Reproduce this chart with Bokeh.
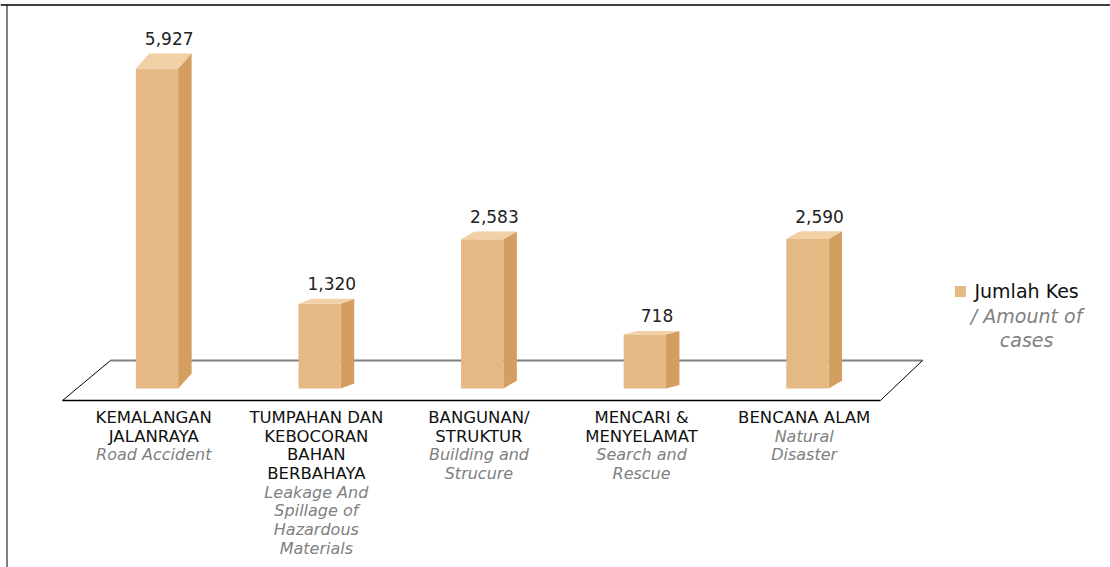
from bokeh.plotting import figure
from bokeh.models import ColumnDataSource, Range1d, Span
from bokeh.embed import file_html
from bokeh.resources import INLINE
from bokeh.core.properties import value

# ---------------- data ----------------
categories_ms = [["KEMALANGAN", "JALANRAYA"],
                 ["TUMPAHAN DAN", "KEBOCORAN", "BAHAN", "BERBAHAYA"],
                 ["BANGUNAN/", "STRUKTUR"],
                 ["MENCARI &", "MENYELAMAT"],
                 ["BENCANA ALAM"]]
categories_en = [["Road Accident"],
                 ["Leakage And", "Spillage of", "Hazardous", "Materials"],
                 ["Building and", "Strucure"],
                 ["Search and", "Rescue"],
                 ["Natural", "Disaster"]]
cases = [5927, 1320, 2583, 718, 2590]
value_labels = ["5,927", "1,320", "2,583", "718", "2,590"]
legend_ms = "Jumlah Kes"
legend_en = ["/ Amount of", "cases"]

# ---------------- style / layout ----------------
W, H = 1110, 567
X_START, X_END = -0.9625, 5.864
Y_START, Y_END = -3844, 7259
HALF_W = 0.13          # half width of bar front face (category units)
DX = 0.083             # 3D depth in x (category units)
BASE = -339            # bar base (value units, front of floor)
FLOOR_BACK, FLOOR_FRONT = 209.5, -573.7
FRONT_C = "#E5B983"
SIDE_C = "#D49E60"
TOP_C = "#F0D0A4"
FONT = "DejaVu Sans"


def depth(v):
    return 40 + 0.043 * v


n = len(cases)
p = figure(width=W, height=H, output_backend="svg", toolbar_location=None,
           x_range=Range1d(X_START, X_END), y_range=Range1d(Y_START, Y_END),
           min_border=0, tools="")
p.axis.visible = False
p.grid.visible = False
p.outline_line_color = None
p.background_fill_color = "white"

# frame border (top and left)
px_y = (Y_END - Y_START) / H
px_x = (X_END - X_START) / W
p.add_layout(Span(location=Y_END - 4.5 * px_y, dimension="width", line_color="black", line_width=1.5))
p.line([X_START + 6.5 * px_x] * 2, [Y_START, Y_END - 4.5 * px_y], line_color="#808080", line_width=2)

# floor
fl_bl, fl_br = -0.286, n - 1 + 0.708
fl_fl, fl_fr = -0.581, n - 1 + 0.449
p.line([fl_bl, fl_br], [FLOOR_BACK, FLOOR_BACK], line_color="#7f7f7f", line_width=2)
p.line([fl_fl, fl_bl], [FLOOR_FRONT, FLOOR_BACK], line_color="black", line_width=1)
p.line([fl_fr, fl_br], [FLOOR_FRONT, FLOOR_BACK], line_color="black", line_width=1)
p.line([fl_fl, fl_fr], [FLOOR_FRONT, FLOOR_FRONT], line_color="black", line_width=1.5)

# bars
fx, fy, sx, sy, tx, ty = [], [], [], [], [], []
for i, v in enumerate(cases):
    d = depth(v)
    l, r = i - HALF_W, i + HALF_W
    fx.append([l, r, r, l]); fy.append([BASE, BASE, v, v])
    sx.append([r, r + DX, r + DX, r]); sy.append([BASE, BASE + d, v + d, v])
    tx.append([l, r, r + DX, l + DX]); ty.append([v, v, v + d, v + d])
p.patches(sx, sy, fill_color=SIDE_C, line_color=None)
p.patches(fx, fy, fill_color=FRONT_C, line_color=None)
p.patches(tx, ty, fill_color=TOP_C, line_color=None)

# value labels
vsrc = ColumnDataSource(dict(x=[i + 0.075 for i in range(n)],
                             y=[v + depth(v) for v in cases],
                             t=value_labels))
p.text("x", "y", text="t", source=vsrc, text_align="center", text_baseline="alphabetic",
       y_offset=-15, text_font=value(FONT), text_font_size="17px", text_color="#222222")

# category labels
PITCH = 18.7
ms = dict(x=[], y=[], t=[], o=[])
en = dict(x=[], y=[], t=[], o=[])
for i in range(n):
    k = 0
    for t in categories_ms[i]:
        ms["x"].append(i - 0.02); ms["y"].append(FLOOR_FRONT); ms["t"].append(t); ms["o"].append(17 + PITCH * k)
        k += 1
    for t in categories_en[i]:
        en["x"].append(i - 0.02); en["y"].append(FLOOR_FRONT); en["t"].append(t); en["o"].append(17 + PITCH * k)
        k += 1
p.text("x", "y", text="t", y_offset="o", source=ColumnDataSource(ms), text_align="center",
       text_baseline="middle", text_font=value(FONT), text_font_size="16.5px", text_color="#111111")
p.text("x", "y", text="t", y_offset="o", source=ColumnDataSource(en), text_align="center",
       text_baseline="middle", text_font=value(FONT), text_font_size="16px", text_color="#808080",
       text_font_style="italic")

# legend
LEG_X, LEG_Y = 4.941, 1561
TXT_X = 5.348
p.scatter([LEG_X], [LEG_Y], marker="square", size=11, fill_color=FRONT_C, line_color=None)
p.text([TXT_X], [LEG_Y], text=[legend_ms], text_align="center", text_baseline="middle",
       text_font=value(FONT), text_font_size="19px", text_color="#111111")
p.text([TXT_X] * len(legend_en), [LEG_Y] * len(legend_en), text=legend_en,
       y_offset=[24.5 * (k + 1) for k in range(len(legend_en))],
       text_align="center", text_baseline="middle", text_font=value(FONT),
       text_font_size="19px", text_color="#808080", text_font_style="italic")

open("out.html", "w").write(file_html(p, INLINE))
